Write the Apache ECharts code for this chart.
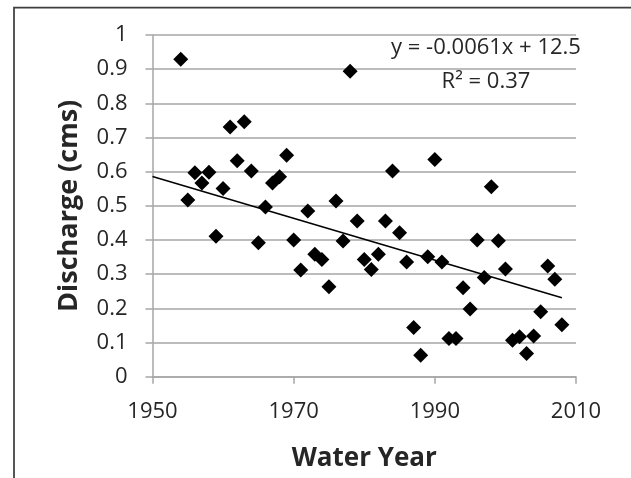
<!DOCTYPE html>
<html>
<head>
<meta charset="utf-8">
<script src="https://cdn.jsdelivr.net/npm/echarts@6/dist/echarts.min.js"></script>
<style>
html,body{margin:0;padding:0;background:#fff;}
#chart{width:631px;height:478px;}
</style>
</head>
<body>
<div id="chart"></div>
<script>
var years = [1954,1955,1956,1957,1958,1959,1960,1961,1962,1963,
             1964,1965,1966,1967,1968,1969,1970,1971,1972,1973,
             1974,1975,1976,1977,1978,1979,1980,1981,1982,1983,
             1984,1985,1986,1987,1988,1989,1990,1991,1992,1993,
             1994,1995,1996,1997,1998,1999,2000,2001,2002,2003,
             2004,2005,2006,2007,2008];
var discharge = [0.929,0.517,0.597,0.567,0.598,0.411,0.551,0.731,0.632,0.746,
                 0.602,0.392,0.497,0.567,0.585,0.648,0.400,0.312,0.485,0.358,
                 0.343,0.263,0.514,0.397,0.894,0.456,0.343,0.314,0.358,0.456,
                 0.602,0.421,0.336,0.144,0.063,0.351,0.636,0.336,0.112,0.112,
                 0.260,0.198,0.400,0.290,0.556,0.398,0.315,0.107,0.117,0.068,
                 0.119,0.190,0.324,0.285,0.152];
var xTicks = [1950,1970,1990,2010];
var yTicks = [0,0.1,0.2,0.3,0.4,0.5,0.6,0.7,0.8,0.9,1];
var equationText = 'y = -0.0061x + 12.5';
var r2Text = 'R² = 0.37';
// trend line coefficients as shown on the chart (read to one more digit from the drawn line)
var trendSlope = -0.00612;
var trendIntercept = 12.52;
var trendRange = [1950, 2008];

var trendData = trendRange.map(function(x){ return [x, trendSlope*x + trendIntercept]; });
var points = years.map(function(y, i){ return [y, discharge[i]]; });

var FONT = '"Open Sans", "Noto Sans", sans-serif';
var chart = echarts.init(document.getElementById('chart'), null, {renderer: 'canvas'});
chart.setOption({
  animation: false,
  backgroundColor: '#fff',
  grid: {left: 152.5, right: 55, top: 35, bottom: 101.3, containLabel: false},
  xAxis: {
    type: 'value', min: xTicks[0], max: xTicks[xTicks.length-1], interval: 20,
    name: 'Water Year', nameLocation: 'middle', nameGap: 69,
    nameTextStyle: {fontFamily: FONT, fontSize: 26, fontWeight: 'bold', color: '#262626'},
    axisLine: {show: true, onZero: false, lineStyle: {color: '#a6a6a6', width: 1.5}},
    axisTick: {show: true, length: 7, lineStyle: {color: '#a6a6a6', width: 1.5}},
    axisLabel: {fontFamily: FONT, fontSize: 22, color: '#262626', margin: 24,
      formatter: function(v){ return String(v); }},
    splitLine: {show: false}
  },
  yAxis: {
    type: 'value', min: 0, max: 1, interval: 0.1,
    name: 'Discharge (cms)', nameLocation: 'middle', nameGap: 70, nameRotate: 90,
    nameTextStyle: {fontFamily: FONT, fontSize: 27, fontWeight: 'bold', color: '#262626'},
    axisLine: {show: true, lineStyle: {color: '#a6a6a6', width: 1.5}},
    axisTick: {show: true, length: 7, lineStyle: {color: '#a6a6a6', width: 1.5}},
    axisLabel: {fontFamily: FONT, fontSize: 22, color: '#262626', margin: 25,
      formatter: function(v){ return String(Math.round(v*10)/10); }},
    splitLine: {show: true, lineStyle: {color: '#a6a6a6', width: 1.5}}
  },
  series: [
    {
      type: 'line', data: trendData, showSymbol: false, symbol: 'none',
      lineStyle: {color: '#000', width: 1.5}, z: 3, silent: true
    },
    {
      type: 'scatter', data: points, symbol: 'diamond', symbolSize: 15,
      itemStyle: {color: '#000', opacity: 1}, z: 4
    }
  ],
  graphic: [
    {type: 'rect', left: 11.5, top: 5, shape: {x: 0, y: 0, width: 700, height: 600},
     style: {fill: 'none', stroke: '#3f3f3f', lineWidth: 1.75}, z: 100, silent: true},
    {type: 'text', x: 486, y: 48, style: {text: equationText, fontFamily: FONT, fontSize: 22,
      fill: '#262626', align: 'center', verticalAlign: 'middle'}, z: 101},
    {type: 'text', x: 486, y: 82, style: {text: r2Text, fontFamily: FONT, fontSize: 22,
      fill: '#262626', align: 'center', verticalAlign: 'middle'}, z: 101}
  ]
});
</script>
</body>
</html>
